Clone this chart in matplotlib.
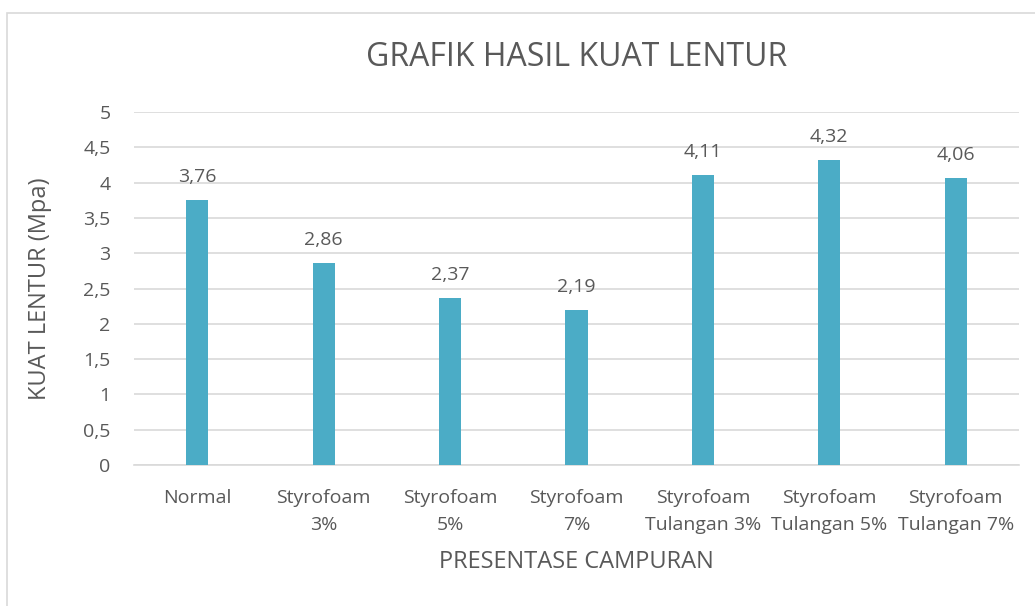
import matplotlib

matplotlib.use("Agg")
import matplotlib.pyplot as plt
from matplotlib.patches import Rectangle

categories = ["Normal", "Styrofoam\n3%", "Styrofoam\n5%", "Styrofoam\n7%",
              "Styrofoam\nTulangan 3%", "Styrofoam\nTulangan 5%", "Styrofoam\nTulangan 7%"]
values = [3.76, 2.86, 2.37, 2.19, 4.11, 4.32, 4.06]
y_ticks = [0, 0.5, 1, 1.5, 2, 2.5, 3, 3.5, 4, 4.5, 5]

TEXT = "#595959"
BAR = "#4BACC6"
GRID = "#D9D9D9"

plt.rcParams["font.family"] = ["Open Sans", "DejaVu Sans"]


def comma(v):
    s = f"{v:g}"
    return s.replace(".", ",")


fig = plt.figure(figsize=(10.35, 6.06), dpi=100)
fig.patches.append(Rectangle((7 / 1035, -0.1), 1.2, 1 - 13 / 606 + 0.1,
                             transform=fig.transFigure, fill=False,
                             edgecolor=GRID, linewidth=1.2))
ax = fig.add_axes([134 / 1035, 1 - 465 / 606, (1019 - 134) / 1035, (465 - 112) / 606])

x = list(range(len(categories)))
ax.bar(x, values, width=0.175, color=BAR, zorder=3)
for xi, v in zip(x, values):
    ax.annotate(comma(v), (xi, v), xytext=(0, 10), textcoords="offset points",
                ha="center", va="bottom", fontsize=14, color=TEXT)

ax.set_xlim(-0.5, len(categories) - 0.5)
ax.set_ylim(0, 5)
ax.set_yticks(y_ticks)
ax.set_yticklabels([comma(t) for t in y_ticks], fontsize=14, color=TEXT)
ax.set_xticks(x)
ax.set_xticklabels(categories, fontsize=14, color=TEXT, linespacing=1.65)
ax.tick_params(axis="x", length=0, pad=17)
ax.tick_params(axis="y", length=0, pad=17)
ax.grid(axis="y", color=GRID, linewidth=1.2, zorder=0)
for s in ["top", "right", "left"]:
    ax.spines[s].set_visible(False)
ax.spines["bottom"].set_color(GRID)
ax.spines["bottom"].set_linewidth(1.2)

ax.set_ylabel("KUAT LENTUR (Mpa)", fontsize=17, color=TEXT, labelpad=22)
ax.set_xlabel("PRESENTASE CAMPURAN", fontsize=17, color=TEXT, labelpad=12)
fig.text(0.5 * (134 + 1019) / 1035, 1 - 58 / 606, "GRAFIK HASIL KUAT LENTUR",
         ha="center", va="center", fontsize=23, color=TEXT)

fig.savefig("out.png", dpi=100)
